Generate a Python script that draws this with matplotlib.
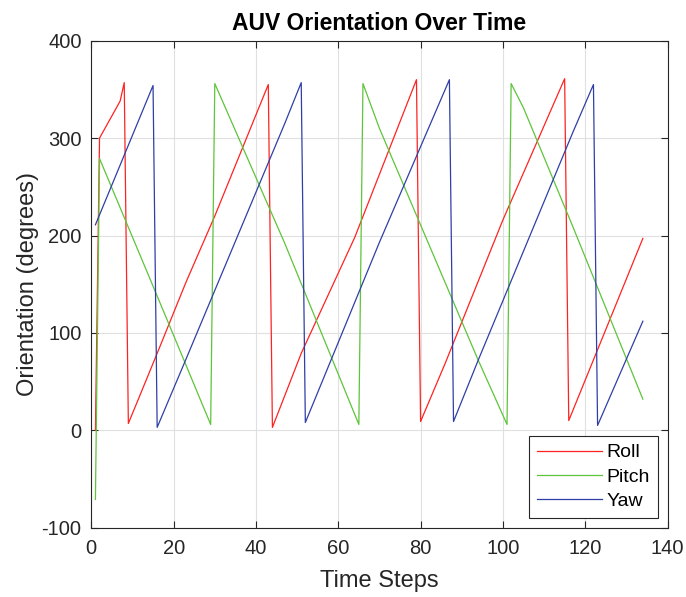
import matplotlib
matplotlib.use("Agg")
import matplotlib.pyplot as plt

# Vertices (time step, degrees)
roll_t = [1, 2, 7, 8, 9, 16, 23, 30, 43, 44, 51, 64, 79, 80, 86, 100, 115, 116, 134]
roll_v = [0, 300, 338, 357, 7, 79, 152, 220, 355, 3, 79, 198, 360, 9, 69, 216, 361, 10, 197]

pitch_t = [1, 2, 15, 23, 29, 30, 47, 65, 66, 70, 94, 101, 102, 105, 117, 134]
pitch_v = [-71, 279, 148, 67, 6, 356, 192, 6, 356, 310, 72, 6, 356, 331, 209, 32]

yaw_t = [1, 15, 16, 23, 47, 51, 52, 70, 87, 88, 94, 117, 122, 123, 134]
yaw_v = [211, 354, 3, 73, 315, 357, 8, 193, 360, 9, 72, 306, 355, 5, 112]

x_ticks = [0, 20, 40, 60, 80, 100, 120, 140]
y_ticks = [-100, 0, 100, 200, 300, 400]

plt.rcParams['font.family'] = ['Liberation Sans', 'DejaVu Sans']
plt.rcParams['axes.unicode_minus'] = False

fig = plt.figure(figsize=(6.86, 5.97), dpi=100)
ax = fig.add_axes([0.1331, 0.1161, 0.840, 0.8157])

ax.plot(roll_t, roll_v, color='#FF2222', lw=0.9, label='Roll')
ax.plot(pitch_t, pitch_v, color='#5EC43A', lw=0.9, label='Pitch')
ax.plot(yaw_t, yaw_v, color='#2F3FA6', lw=0.9, label='Yaw')

ax.set_xlim(0, 140)
ax.set_ylim(-100, 400)
ax.set_xticks(x_ticks)
ax.set_yticks(y_ticks)

# MATLAB-like axes look
ax.grid(True, color='#E0E0E0', lw=0.8)
ax.set_axisbelow(True)
ax.tick_params(direction='in', top=True, right=True, length=5, width=0.8,
               colors='#262626', labelsize=14.5)
ax.tick_params(axis='x', pad=8)
ax.tick_params(axis='y', pad=7)
for s in ax.spines.values():
    s.set_color('#262626')
    s.set_linewidth(0.8)

ax.set_title('AUV Orientation Over Time', fontsize=16.5, fontweight='bold', pad=8)
ax.set_xlabel('Time Steps', fontsize=17, color='#262626', labelpad=9)
ax.set_ylabel('Orientation (degrees)', fontsize=17, color='#262626', labelpad=2)

leg = ax.legend(loc='lower right', fontsize=14, fancybox=False, framealpha=1,
                edgecolor='#262626', handlelength=3.35, borderpad=0.4,
                labelspacing=0.35, handletextpad=0.25, borderaxespad=0.5)
leg.get_frame().set_linewidth(0.8)

fig.savefig('out.png', dpi=100)
